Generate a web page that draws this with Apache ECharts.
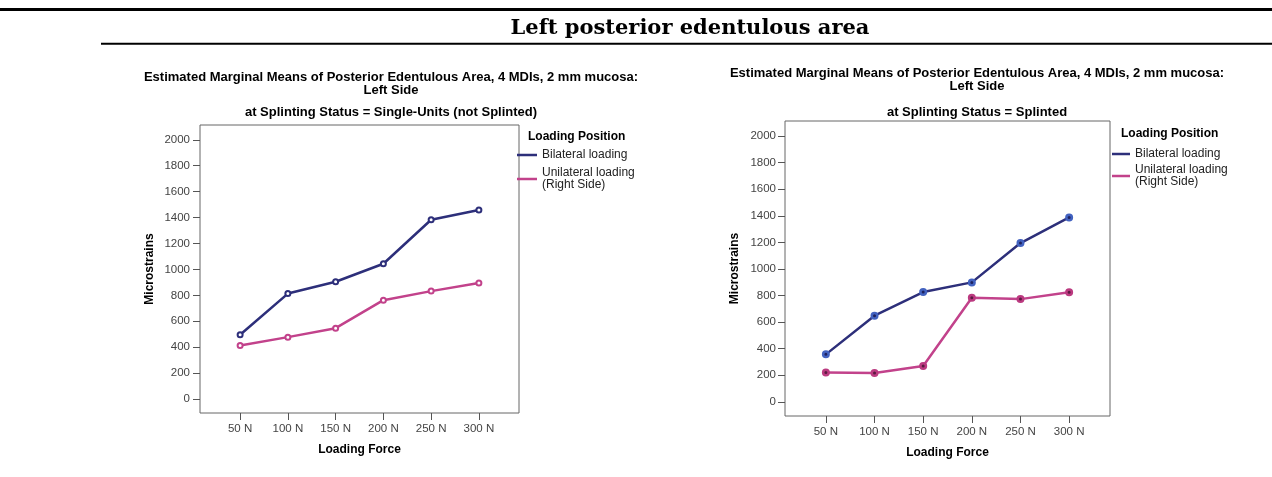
<!DOCTYPE html>
<html>
<head>
<meta charset="utf-8">
<title>Left posterior edentulous area</title>
<script src="https://cdn.jsdelivr.net/npm/echarts@6/dist/echarts.min.js"></script>
<style>
  html, body { margin: 0; padding: 0; background: #fff; }
  #chart { width: 1272px; height: 477px; }
</style>
</head>
<body>
<div id="chart"></div>
<script>
// Loading force levels (N) on the x axis
const forces = [50, 100, 150, 200, 250, 300];
// Microstrain tick values on the y axis
const strainTicks = [0, 200, 400, 600, 800, 1000, 1200, 1400, 1600, 1800, 2000];

// Estimated marginal means, single units (not splinted)
const singleBilateral = [496, 814, 905, 1044, 1383, 1458];
const singleUnilateral = [414, 478, 547, 763, 833, 895];

// Estimated marginal means, splinted
const splintBilateral = [357, 648, 826, 899, 1195, 1388];
const splintUnilateral = [221, 216, 269, 783, 773, 824];

const seriesNames = ['Bilateral loading', 'Unilateral loading\n(Right Side)'];

const NAVY = '#2d2f7a';
const PINK = '#c2428b';
const FONT = '"Liberation Sans", Arial, sans-serif';
const TEXT = '#000';
const TICK_TEXT = '#444';

const pairs = (vals) => forces.map((f, i) => [f, vals[i]]);

function xAxisFor(gridIndex) {
  return {
    type: 'value', gridIndex, min: 8, max: 342,
    name: 'Loading Force', nameLocation: 'middle', nameGap: 31,
    nameTextStyle: { fontFamily: FONT, fontSize: 12, fontWeight: 'bold', color: TEXT },
    axisLine: { show: false, onZero: false },
    splitLine: { show: false },
    axisTick: { show: true, inside: false, length: 7, customValues: forces, lineStyle: { color: '#555' } },
    axisLabel: {
      margin: 10, customValues: forces, formatter: (v) => v + ' N',
      fontFamily: FONT, fontSize: 11.5, color: TICK_TEXT
    }
  };
}

function yAxisFor(gridIndex, margin) {
  return {
    type: 'value', gridIndex, min: -107, max: 2114,
    name: 'Microstrains', nameLocation: 'middle', nameGap: 44, nameRotate: 90,
    nameTextStyle: { fontFamily: FONT, fontSize: 12, fontWeight: 'bold', color: TEXT },
    axisLine: { show: false, onZero: false },
    splitLine: { show: false },
    axisTick: { show: true, inside: false, length: 7, customValues: strainTicks, lineStyle: { color: '#555' } },
    axisLabel: {
      margin, customValues: strainTicks, formatter: (v) => String(v),
      fontFamily: FONT, fontSize: 11.5, color: TICK_TEXT
    }
  };
}

function lineSeries(name, vals, idx, color, fill, border, borderWidth, size) {
  return {
    type: 'line', name, xAxisIndex: idx, yAxisIndex: idx,
    data: pairs(vals),
    symbol: 'circle', symbolSize: size,
    lineStyle: { color, width: 2.5 },
    itemStyle: { color: fill, borderColor: border, borderWidth },
    emphasis: { disabled: true },
    animation: false
  };
}

function legendFor(left, top, gap, iconWidth) {
  return {
    orient: 'vertical', left, top, padding: 0, itemGap: gap,
    itemWidth: iconWidth, itemHeight: 2.5, icon: 'rect', selectedMode: false,
    textStyle: { fontFamily: FONT, fontSize: 12, lineHeight: 12, color: '#222' },
    data: [
      { name: seriesNames[0], itemStyle: { color: NAVY, borderWidth: 0 } },
      { name: seriesNames[1], itemStyle: { color: PINK, borderWidth: 0 } }
    ]
  };
}

function label(x, y, text, font) {
  return {
    type: 'text', x, y,
    style: { text, font, fill: TEXT, align: 'center', verticalAlign: 'middle' }
  };
}

const chartTitle = 'Estimated Marginal Means of Posterior Edentulous Area, 4 MDIs, 2 mm mucosa:';
const bold13 = 'bold 13px ' + FONT;
const bold12 = 'bold 12px ' + FONT;

const option = {
  backgroundColor: '#fff',
  animation: false,
  grid: [
    { left: 200, top: 125, width: 319, height: 288, show: true, borderColor: '#666', borderWidth: 1, backgroundColor: '#fff' },
    { left: 785, top: 121, width: 325, height: 295, show: true, borderColor: '#666', borderWidth: 1, backgroundColor: '#fff' }
  ],
  xAxis: [xAxisFor(0), xAxisFor(1)],
  yAxis: [yAxisFor(0, 10), yAxisFor(1, 9)],
  legend: [legendFor(517, 149, 6, 20), legendFor(1112, 148, 4, 18)],
  series: [
    lineSeries(seriesNames[1], singleUnilateral, 0, PINK, '#fff', PINK, 2, 5),
    lineSeries(seriesNames[0], singleBilateral, 0, NAVY, '#fff', NAVY, 2, 5),
    lineSeries(seriesNames[1], splintUnilateral, 1, PINK, '#5a1a40', '#bb3a80', 2.5, 5.5),
    lineSeries(seriesNames[0], splintBilateral, 1, NAVY, '#1e2260', '#4262c0', 2.5, 5.5)
  ],
  graphic: [
    // page heading with its rules
    { type: 'rect', shape: { x: 0, y: 8, width: 1272, height: 3 }, style: { fill: '#000' } },
    { type: 'rect', shape: { x: 101, y: 42.7, width: 1171, height: 2 }, style: { fill: '#000' } },
    label(690, 29, 'Left posterior edentulous area', 'bold 21px "DejaVu Serif", serif'),
    // single units panel
    label(391, 77.5, chartTitle, bold13),
    label(391, 90.5, 'Left Side', bold13),
    label(391, 112.5, 'at Splinting Status = Single-Units (not Splinted)', bold13),
    { type: 'text', x: 528, y: 137, style: { text: 'Loading Position', font: bold12, fill: TEXT, verticalAlign: 'middle' } },
    // splinted panel
    label(977, 73.5, chartTitle, bold13),
    label(977, 86, 'Left Side', bold13),
    label(977, 112, 'at Splinting Status = Splinted', bold13),
    { type: 'text', x: 1121, y: 133.5, style: { text: 'Loading Position', font: bold12, fill: TEXT, verticalAlign: 'middle' } }
  ]
};

const chart = echarts.init(document.getElementById('chart'), null, { renderer: 'canvas' });
chart.setOption(option);
</script>
</body>
</html>
